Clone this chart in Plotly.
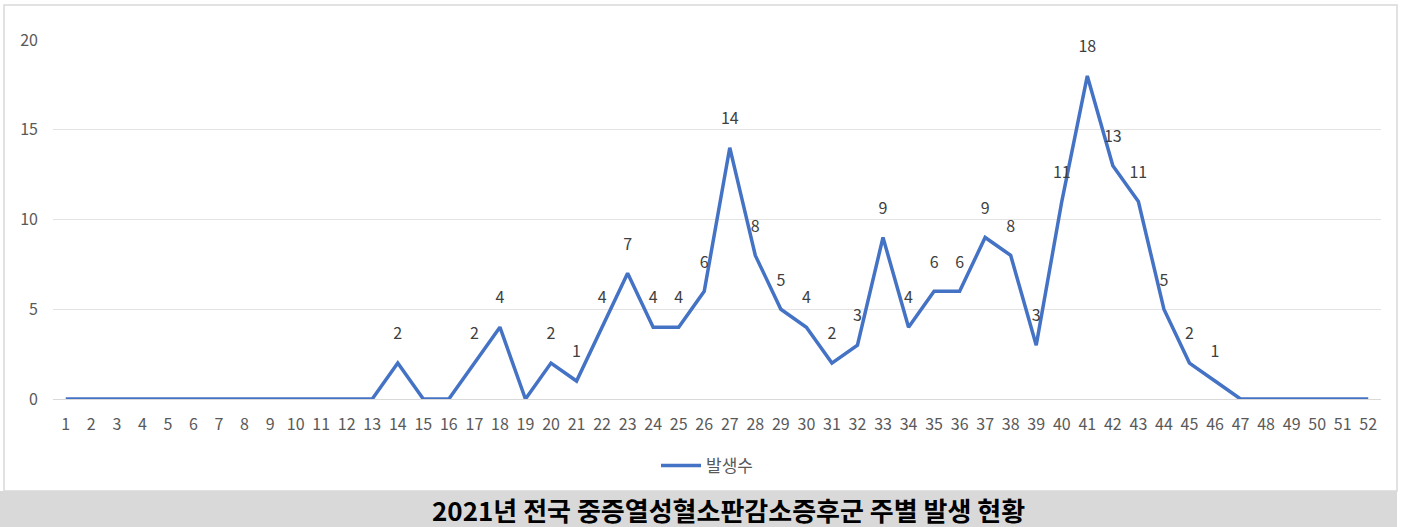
import plotly.graph_objects as go

weeks = [str(i) for i in range(1, 53)]
cases = [0,0,0,0,0,0,0,0,0,0,0,0,0,2,0,0,2,4,0,2,1,4,7,4,4,6,14,8,5,4,2,3,9,4,6,6,9,8,3,11,18,13,11,5,2,1,0,0,0,0,0,0]
series_name = "발생수"
title_text = "2021년 전국 중증열성혈소판감소증후군 주별 발생 현황"
labels = [str(v) if v != 0 else "" for v in cases]

FONT = "Noto Sans CJK KR"

fig = go.Figure()
fig.add_trace(go.Scatter(
    x=weeks, y=cases, mode="lines+markers+text", name=series_name,
    line=dict(color="#4472C4", width=3.5),
    marker=dict(size=30, color="rgba(0,0,0,0)", line=dict(width=0)),
    text=labels, textposition="top center",
    textfont=dict(family=FONT, size=16, color="#404040"),
    cliponaxis=False,
))

W, H = 1404, 527
L, R, T, B = 53, 23, 40, 128
pw, ph = W - L - R, H - T - B

def px(x):
    return (x - L) / pw

def py(y):
    return (H - B - y) / ph

fig.update_layout(
    width=W, height=H,
    margin=dict(l=L, r=R, t=T, b=B),
    paper_bgcolor="white", plot_bgcolor="white",
    font=dict(family=FONT, color="#595959"),
    showlegend=True,
    legend=dict(orientation="h", x=px(656), xanchor="left", y=py(466), yanchor="middle",
                font=dict(family=FONT, size=17, color="#595959"), itemwidth=40),
    xaxis=dict(type="category", range=[-0.5, 51.5], showgrid=False, showline=False,
               tickfont=dict(family=FONT, size=16, color="#595959"), ticklabelstandoff=14,
               zeroline=False, tickangle=0),
    yaxis=dict(range=[0, 20], dtick=5, showgrid=True, gridcolor="#e3e3e3", gridwidth=1,
               zeroline=True, zerolinecolor="#d9d9d9", zerolinewidth=1, showline=False,
               tickfont=dict(family=FONT, size=16, color="#595959"), ticklabelstandoff=14),
    shapes=[
        dict(type="rect", xref="paper", yref="paper", x0=px(4), x1=px(1397), y0=py(491), y1=py(5),
             line=dict(color="#d9d9d9", width=1.5), fillcolor="rgba(0,0,0,0)", layer="below"),
        dict(type="rect", xref="paper", yref="paper", x0=px(0), x1=px(1397), y0=py(527), y1=py(491),
             line=dict(width=0), fillcolor="#d9d9d9", layer="below"),
    ],
    annotations=[
        dict(text="<b>" + title_text + "</b>", xref="paper", yref="paper", x=px(728), y=py(509),
             xanchor="center", yanchor="middle", showarrow=False,
             font=dict(family=FONT, size=26, color="#000000")),
    ],
)

fig.write_html("out.html", config={"displayModeBar": False},
               post_script="document.body.style.margin='0';document.body.style.overflow='hidden';")
